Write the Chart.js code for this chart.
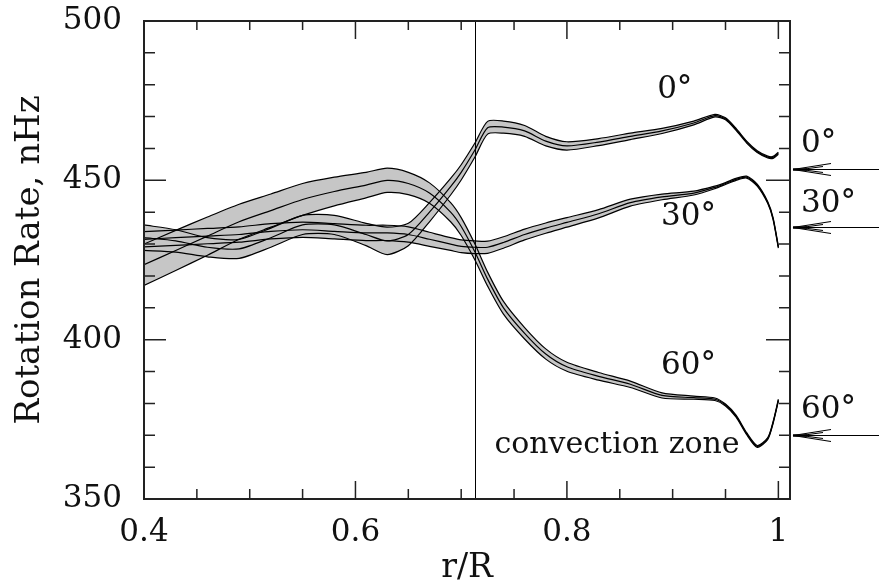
<!DOCTYPE html>
<html>
<head>
<meta charset="utf-8">
<script src="https://cdn.jsdelivr.net/npm/chart.js@4.4.0/dist/chart.umd.min.js"></script>
<style>
  html, body { margin: 0; padding: 0; background: #fff; }
  #wrap { width: 879px; height: 588px; }
</style>
</head>
<body>
<div id="wrap"><canvas id="rot"></canvas></div>
<script>
// r/R grid the curves are read on
const radius = [0.40, 0.43, 0.46, 0.49, 0.52, 0.55, 0.58, 0.61, 0.63, 0.65, 0.67, 0.69, 0.70, 0.713, 0.725,
                0.74, 0.76, 0.78, 0.80, 0.83, 0.86, 0.89, 0.92, 0.94, 0.95, 0.96, 0.97, 0.98, 0.99, 0.995, 1.00];

// rotation rate (nHz) and error half-width for each latitude
const rate0  = [432, 431, 429, 428.5, 432, 436, 436, 433, 431, 433, 440, 448, 452.5, 459.5, 466.5,
                466.7, 465.5, 462.3, 460.8, 462, 463.8, 465.5, 468, 470.3, 469.3, 466, 462, 459, 457.3, 457.2, 458.5];
const err0   = [4, 3.5, 3, 3, 3, 3, 3, 3.5, 4.3, 3.5, 3, 2.6, 2.4, 2.2, 2,
                1.9, 1.7, 1.5, 1.3, 1.1, 1, 0.8, 0.6, 0.4, 0.3, 0.3, 0.3, 0.3, 0.3, 0.3, 0.3];
const rate30 = [431.5, 432, 432.5, 433, 434, 434.5, 434, 433.5, 433.5, 433, 431.5, 430, 429.3, 429, 429,
                430.5, 433, 435, 436.8, 439.5, 443, 444.8, 446, 447.8, 449, 450.3, 451, 448.5, 443, 438, 429];
const err30  = [2.4, 2.4, 2.4, 2.4, 2.4, 2.4, 2.4, 2.4, 2.4, 2.4, 2.2, 2, 2, 2, 1.9,
                1.8, 1.7, 1.6, 1.5, 1.3, 1.1, 0.9, 0.6, 0.4, 0.3, 0.3, 0.3, 0.3, 0.3, 0.3, 0.3];
const rate60 = [423.5, 428, 432.5, 437, 440.5, 444, 446.5, 448.5, 450, 449, 446, 440, 435.5, 427.5, 419,
                410, 402, 395.5, 391.5, 388.5, 386, 382.5, 381.8, 381.3, 379.5, 376, 370.5, 366.5, 369, 374, 381];
const err60  = [6.5, 6.3, 6, 5.5, 5.2, 5, 4.5, 4, 3.8, 3.5, 3.2, 3, 2.8, 2.5, 2.2,
                2, 1.8, 1.6, 1.4, 1.2, 1, 0.8, 0.5, 0.4, 0.3, 0.3, 0.3, 0.3, 0.3, 0.3, 0.3];

// surface rates marked by arrows on the right, base of convection zone
const surfaceRate = [453.5, 435.5, 370];
const tachocline = 0.713;

const latLabels = ['0°', '30°', '60°'];
const xTickValues = [0.4, 0.6, 0.8, 1.0];
const yTickValues = [350, 400, 450, 500];

// label anchors in data units
const innerLabelPos = [[0.902, 478.3], [0.915, 438.5], [0.915, 391.7]];
const outerLabelRate = [461.5, 442.7, 378];
const zoneLabelPos = [0.7314, 364.4];

const serif = '"DejaVu Serif", "Liberation Serif", serif';
const bandGrey = '#c6c6c6';

function pts(vals) {
    return radius.map((r, i) => ({ x: r, y: vals[i] }));
}

function band(rate, err) {
    const up = rate.map((v, i) => v + err[i]);
    const lo = rate.map((v, i) => v - err[i]);
    return [
        { data: pts(up), fill: false },
        { data: pts(lo), fill: '-1', backgroundColor: bandGrey },
        { data: pts(rate), fill: false }
    ];
}

const datasets = [].concat(band(rate60, err60), band(rate30, err30), band(rate0, err0));

// frame, inward ticks, tachocline, labels and arrows
const decor = {
    id: 'decor',
    afterDraw(chart) {
        const { ctx, chartArea: a, scales: { x, y } } = chart;
        ctx.save();

        // base of the convection zone
        ctx.strokeStyle = '#000';
        ctx.lineWidth = 1;
        const xt = Math.round(x.getPixelForValue(tachocline)) + 0.5;
        ctx.beginPath();
        ctx.moveTo(xt, a.top);
        ctx.lineTo(xt, a.bottom);
        ctx.stroke();

        // box
        ctx.strokeStyle = '#222';
        ctx.lineWidth = 2;
        ctx.strokeRect(a.left, a.top, a.right - a.left, a.bottom - a.top);

        // ticks
        ctx.lineWidth = 1.5;
        ctx.beginPath();
        for (let k = 0; k <= 12; k++) {
            const v = 0.4 + k * 0.05;
            const px = x.getPixelForValue(v);
            const big = k % 4 === 0;
            ctx.moveTo(px, a.bottom); ctx.lineTo(px, a.bottom - (big ? 18 : 10));
            ctx.moveTo(px, a.top); ctx.lineTo(px, a.top + (big ? 18 : 9));
        }
        for (let v = 360; v < 500; v += 10) {
            const py = y.getPixelForValue(v);
            const big = v % 50 === 0;
            ctx.moveTo(a.left, py); ctx.lineTo(a.left + (big ? 22 : 11), py);
            ctx.moveTo(a.right, py); ctx.lineTo(a.right - (big ? 24 : 11), py);
        }
        ctx.stroke();

        // arrows with surface rates
        ctx.strokeStyle = '#000';
        ctx.lineWidth = 1.2;
        surfaceRate.forEach(rate => {
            const py = Math.round(y.getPixelForValue(rate)) + 0.5;
            const tip = a.right + 3;
            ctx.beginPath();
            ctx.moveTo(tip, py); ctx.lineTo(chart.width, py);
            ctx.moveTo(tip, py); ctx.lineTo(tip + 38, py - 6);
            ctx.moveTo(tip, py); ctx.lineTo(tip + 38, py + 6);
            ctx.moveTo(tip + 8, py); ctx.lineTo(tip + 30, py - 3);
            ctx.moveTo(tip + 8, py); ctx.lineTo(tip + 30, py + 3);
            ctx.stroke();
            ctx.lineWidth = 2.5;
            ctx.beginPath();
            ctx.moveTo(tip, py); ctx.lineTo(tip + 14, py);
            ctx.stroke();
            ctx.lineWidth = 1.2;
        });

        // labels
        ctx.fillStyle = '#111';
        ctx.font = '31px ' + serif;
        ctx.textBaseline = 'middle';
        ctx.textAlign = 'center';
        latLabels.forEach((t, i) => {
            const p = innerLabelPos[i];
            ctx.fillText(t, x.getPixelForValue(p[0]), y.getPixelForValue(p[1]));
        });
        ctx.textAlign = 'left';
        latLabels.forEach((t, i) => {
            ctx.fillText(t, a.right + 11, y.getPixelForValue(outerLabelRate[i]));
        });
        ctx.font = '30px ' + serif;
        ctx.textBaseline = 'alphabetic';
        ctx.fillText('convection zone', x.getPixelForValue(zoneLabelPos[0]), y.getPixelForValue(zoneLabelPos[1]));

        ctx.restore();
    }
};

new Chart(document.getElementById('rot'), {
    type: 'line',
    data: { datasets: datasets },
    options: {
        responsive: true,
        maintainAspectRatio: false,
        animation: false,
        events: [],
        layout: { padding: { top: 21, right: 89, left: 0, bottom: 0 } },
        elements: {
            point: { radius: 0 },
            line: { tension: 0.25, borderWidth: 1.2, borderColor: '#000' }
        },
        plugins: {
            legend: { display: false },
            tooltip: { enabled: false },
            filler: { propagate: false, drawTime: 'beforeDatasetsDraw' }
        },
        scales: {
            x: {
                type: 'linear',
                min: 0.4,
                max: 1.011,
                grid: { display: false, drawTicks: false },
                border: { display: false },
                afterBuildTicks: s => { s.ticks = xTickValues.map(v => ({ value: v })); },
                afterFit: s => { s.height = 89; s.paddingLeft = 0; s.paddingRight = 0; },
                ticks: {
                    color: '#111',
                    maxRotation: 0,
                    padding: 15,
                    font: { family: serif, size: 31 },
                    callback: v => String(Math.round(v * 10) / 10)
                },
                title: {
                    display: true,
                    text: 'r/R',
                    color: '#111',
                    font: { family: serif, size: 33 },
                    padding: { top: 0, bottom: 0 }
                }
            },
            y: {
                type: 'linear',
                min: 350,
                max: 500,
                grid: { display: false, drawTicks: false },
                border: { display: false },
                afterBuildTicks: s => { s.ticks = yTickValues.map(v => ({ value: v })); },
                afterFit: s => { s.width = 144; s.paddingTop = 0; s.paddingBottom = 0; },
                ticks: {
                    color: '#111',
                    padding: 22,
                    font: { family: serif, size: 31 },
                    callback: v => String(v)
                },
                title: {
                    display: true,
                    text: 'Rotation Rate, nHz',
                    color: '#111',
                    font: { family: serif, size: 34 },
                    padding: { top: 10, bottom: 0 }
                }
            }
        }
    },
    plugins: [decor]
});
</script>
</body>
</html>
